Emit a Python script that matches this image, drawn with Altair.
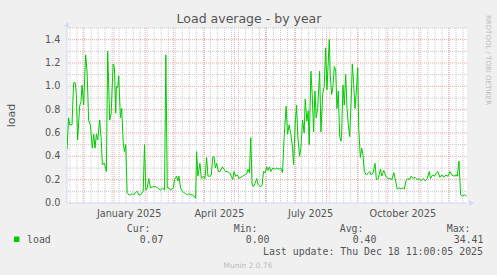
import altair as alt
import pandas as pd

# ---------------- data ----------------
start_date = "2024-11-15"
end_date = "2025-12-19"

# days after start_date, and the load read at that moment
day_offsets = [
    0.0, 1.6, 2.6, 5.0, 6.6, 8.3, 9.3, 10.6, 12.6, 14.0, 15.0, 16.6, 18.6, 20.0,
    21.6, 23.3, 25.3, 26.6, 28.0, 29.3, 30.6, 32.6, 34.0, 35.3, 37.3, 39.3, 40.6,
    42.6, 44.0, 46.0, 47.3, 48.6, 49.3, 50.6, 51.6, 53.3, 54.6, 56.0, 57.3, 58.6,
    60.0, 61.6, 63.3, 65.0, 66.6, 68.3, 70.0, 71.6, 73.3, 76.0, 77.3, 78.6, 80.0,
    81.6, 83.3, 86.0, 88.3, 90.6, 93.3, 95.3, 97.3, 98.6, 100.0, 101.6, 103.3,
    106.0, 107.3, 109.3, 110.6, 111.6, 113.3,
    115.0, 116.6, 118.3, 120.0, 121.6, 123.3, 125.0, 126.6, 128.3, 129.3, 130.6,
    132.6, 134.0, 136.0, 137.6, 139.3, 140.6, 142.6, 144.0, 145.3, 146.6, 148.0,
    149.3, 151.0, 152.6, 155.0, 156.6, 158.3, 160.0, 162.0, 164.0, 165.3, 166.6,
    168.3, 170.0, 171.6, 173.3, 175.3, 177.3, 179.3, 180.6, 182.0, 183.3, 184.6,
    186.0, 187.6, 189.3, 190.6, 192.6, 194.6, 196.0, 197.6, 199.3, 200.6, 202.0,
    203.3, 205.3, 207.3, 209.3, 211.3, 213.3, 215.0, 216.6, 218.6, 220.0, 221.6,
    223.3, 225.0, 226.0, 227.6, 229.0, 230.3, 232.0, 233.3, 235.0, 236.6, 237.6,
    239.3, 240.6, 241.6, 243.3, 244.6, 246.0, 247.3, 248.6, 250.0, 252.0, 253.3,
    255.0, 256.6, 258.0, 259.3, 261.6, 262.6, 264.0, 265.3, 266.6, 268.0, 269.3,
    270.6, 272.0, 273.3,
    274.0, 275.3, 276.6, 278.0, 279.3, 280.6, 282.0, 283.3, 284.6, 286.0, 287.3,
    288.6, 290.0, 291.0, 292.6, 294.0, 295.3, 296.6, 298.6, 300.6, 302.0, 303.3,
    305.3, 307.3, 308.6, 310.6, 312.6, 314.0, 316.0, 318.0, 320.0, 322.0, 324.0,
    326.0, 327.3, 329.3, 331.3, 333.3, 335.3, 336.6, 338.0, 340.0, 341.6, 343.3,
    345.3, 347.3, 349.3, 351.3, 353.3, 355.3, 357.3, 359.3, 361.3, 362.6, 364.6,
    366.6, 368.6, 370.0, 372.0, 374.0, 376.0, 378.0, 380.0, 382.0, 384.0, 386.0,
    388.0, 389.3, 391.0, 392.6, 394.6, 396.6, 398.6,
]
load_values = [
    0.46, 0.73, 0.67, 0.67, 1.03, 1.03, 0.93, 0.54, 0.83, 0.87, 1.01, 0.84, 1.27, 1.13,
    0.71, 0.67, 0.47, 0.59, 0.47, 0.59, 0.54, 0.71, 0.56, 0.33, 0.34, 0.27, 1.30,
    0.71, 0.76, 1.19, 1.16, 0.77, 1.00, 0.99, 1.09, 0.73, 0.81, 0.53, 0.44, 0.50,
    0.09, 0.07, 0.07, 0.08, 0.07, 0.09, 0.10, 0.07, 0.07, 0.10, 0.50, 0.11, 0.13,
    0.21, 0.13, 0.14, 0.14, 0.13, 0.11, 0.13, 0.11, 1.27, 0.13, 0.13, 0.11,
    0.13, 0.20, 0.23, 0.19, 0.23, 0.13,
    0.10, 0.09, 0.08, 0.07, 0.08, 0.07, 0.07, 0.06, 0.04, 0.44, 0.23,
    0.34, 0.21, 0.23, 0.21, 0.39, 0.23, 0.23, 0.24, 0.39, 0.40, 0.30,
    0.34, 0.27, 0.27, 0.31, 0.29, 0.27, 0.27, 0.26, 0.23, 0.20, 0.27,
    0.23, 0.24, 0.21, 0.22, 0.23, 0.24, 0.25, 0.29, 0.26, 0.56, 0.16,
    0.14, 0.17, 0.21, 0.16, 0.14, 0.15, 0.27, 0.26, 0.31, 0.28, 0.31,
    0.27, 0.30, 0.29, 0.30, 0.29, 0.30, 0.26, 0.56, 0.83, 0.59, 0.67,
    0.59, 0.47, 0.33, 0.67, 0.84, 0.56, 0.40, 0.47, 0.71, 0.60, 0.89,
    0.70, 0.79, 0.50, 1.13, 0.93, 0.61, 0.96, 0.73, 0.81, 1.13, 0.61,
    0.93, 1.00, 1.33, 0.97, 1.40, 1.10, 0.93, 1.00, 1.17, 1.14, 0.81,
    0.96, 0.57, 0.53,
    0.61, 1.01, 0.84, 1.10, 0.81, 0.67, 0.57, 0.84, 1.19, 1.01, 0.81,
    0.96, 1.16, 0.64, 0.39, 0.47, 0.41, 0.27, 0.24, 0.26, 0.27, 0.24,
    0.26, 0.34, 0.20, 0.21, 0.29, 0.23, 0.28, 0.23, 0.21, 0.21, 0.20,
    0.26, 0.21, 0.12, 0.13, 0.12, 0.13, 0.12, 0.19, 0.21, 0.20, 0.23,
    0.21, 0.22, 0.20, 0.21, 0.19, 0.21, 0.19, 0.21, 0.27, 0.21, 0.24,
    0.23, 0.26, 0.27, 0.22, 0.24, 0.22, 0.24, 0.23, 0.27, 0.24, 0.23,
    0.24, 0.23, 0.36, 0.07, 0.06, 0.07, 0.06,
]

month_starts = [
    "2024-12-01", "2025-01-01", "2025-02-01", "2025-03-01", "2025-04-01",
    "2025-05-01", "2025-06-01", "2025-07-01", "2025-08-01", "2025-09-01",
    "2025-10-01", "2025-11-01", "2025-12-01",
]
label_dates = ["2025-01-16", "2025-04-16", "2025-07-16", "2025-10-16"]
y_ticks = [0.0, 0.2, 0.4, 0.6, 0.8, 1.0, 1.2, 1.4]
y_major = [0.2, 0.4, 0.6, 0.8, 1.0, 1.2, 1.4]
y_minor = [0.1, 0.3, 0.5, 0.7, 0.9, 1.1, 1.3, 1.5]

title_text = "Load average - by year"
y_title = "load"
series_name = "load"
legend_headers = ["Cur:", "Min:", "Avg:", "Max:"]
legend_values = ["0.07", "0.00", "0.40", "34.41"]
last_update = "Last update: Thu Dec 18 11:00:05 2025"
footer = "Munin 2.0.76"
watermark = "RRDTOOL / TOBI OETIKER"

# ---------------- tables ----------------
t0 = pd.Timestamp(start_date)
load_df = pd.DataFrame({
    "date": t0 + pd.to_timedelta(day_offsets, unit="D"),
    "load": load_values,
})
month_df = pd.DataFrame({"date": pd.to_datetime(month_starts)})
week_df = pd.DataFrame({"date": pd.date_range(start_date, end_date, freq="W-MON")})
xlab_df = pd.DataFrame({"date": pd.to_datetime(label_dates)})
ylab_df = pd.DataFrame({"y": y_ticks})
ymaj_df = pd.DataFrame({"y": y_major})
ymin_df = pd.DataFrame({"y": y_minor})
one = pd.DataFrame({"d": [0]})


def dt(s):
    t = pd.Timestamp(s)
    return alt.DateTime(year=t.year, month=t.month, date=t.day)


x_scale = alt.Scale(domain=[dt(start_date), dt(end_date)])
y_scale = alt.Scale(domain=[0, 1.5], nice=False)

FONT = "DejaVu Sans"
MONO = "DejaVu Sans Mono"
TXT = "#555555"
AXIS_C = "#CFD6F8"
GREEN = "#00CC00"
MINOR_C = "#C8C8C8"
MAJOR_C = "#F0A4A4"

X = lambda f: alt.X(f, scale=x_scale, axis=None)
Y = lambda f: alt.Y(f, scale=y_scale, axis=None)

minor_v = alt.Chart(week_df).mark_rule(color=MINOR_C, strokeWidth=1, strokeDash=[1, 1]).encode(
    x=X("date:T"))
major_v = alt.Chart(month_df).mark_rule(color=MAJOR_C, strokeWidth=1, strokeDash=[1, 1]).encode(
    x=X("date:T"))
minor_h = alt.Chart(ymin_df).mark_rule(color=MINOR_C, strokeWidth=1, strokeDash=[1, 1]).encode(
    y=Y("y:Q"))
major_h = alt.Chart(ymaj_df).mark_rule(color=MAJOR_C, strokeWidth=1, strokeDash=[1, 1]).encode(
    y=Y("y:Q"))

line = alt.Chart(load_df).mark_line(color=GREEN, strokeWidth=1, clip=True).encode(
    x=X("date:T"), y=Y("load:Q"))

# axis lines with arrows
y_axis_line = alt.Chart(one).mark_rule(color=AXIS_C, strokeWidth=1).encode(
    x=alt.XDatum(dt(start_date), scale=x_scale, axis=None),
    y=alt.YDatum(0, scale=y_scale, axis=None),
    y2=alt.Y2Datum(1.5))
x_axis_line = alt.Chart(one).mark_rule(color=AXIS_C, strokeWidth=1).encode(
    x=alt.XDatum(dt(start_date), scale=x_scale, axis=None),
    x2=alt.X2Datum(dt(end_date)),
    y=alt.YDatum(0, scale=y_scale, axis=None))
arrow_up = alt.Chart(one).mark_point(
    shape="triangle-up", filled=True, color=AXIS_C, size=28, opacity=1, yOffset=-3.5).encode(
    x=alt.XDatum(dt(start_date), scale=x_scale, axis=None),
    y=alt.YDatum(1.5, scale=y_scale, axis=None))
arrow_right = alt.Chart(one).mark_point(
    shape="triangle-right", filled=True, color=AXIS_C, size=28, opacity=1, xOffset=4.5).encode(
    x=alt.XDatum(dt(end_date), scale=x_scale, axis=None),
    y=alt.YDatum(0, scale=y_scale, axis=None))

# tick labels drawn through the scales
y_labels = alt.Chart(ylab_df).mark_text(
    align="right", baseline="middle", font=FONT, fontSize=9.7, color=TXT).encode(
    y=Y("y:Q"), x=alt.value(-6.5), text=alt.Text("y:Q", format=".1f"))
x_labels = alt.Chart(xlab_df).mark_text(
    align="center", baseline="alphabetic", font=FONT, fontSize=9.7, color=TXT).encode(
    x=X("date:T"), y=alt.value(189), text=alt.Text("date:T", format="%B %Y"))


def text(s, x, y, align="left", font=FONT, size=9.7, color=TXT, angle=0, baseline="alphabetic"):
    return alt.Chart(pd.DataFrame({"t": [s]})).mark_text(
        align=align, baseline=baseline, font=font, fontSize=size, color=color, angle=angle
    ).encode(text="t:N", x=alt.value(x), y=alt.value(y))


texts = [
    text(title_text, 182, -5, align="center", size=12.5),
    text(y_title, -52, 87.5, align="center", size=11, angle=270),
    text(watermark, 420.5, -13, size=7, color="#BDBDBD", angle=90, baseline="middle"),
    text(series_name, -40, 215.3, font=MONO, size=9.9),
    text(last_update, 416, 227, align="right", font=MONO, size=9.9),
    text(footer, 181, 239.7, align="center", size=7.5, color="#BBBBBB"),
]
for h, xr in zip(legend_headers, [83.5, 190.5, 296.5, 403.5]):
    texts.append(text(h, xr, 203.7, align="right", font=MONO, size=9.9))
for v, xr in zip(legend_values, [96.5, 202.5, 309.5, 416.5]):
    texts.append(text(v, xr, 215.3, align="right", font=MONO, size=9.9))

swatch = alt.Chart(pd.DataFrame({"t": [series_name]})).mark_square(
    color=GREEN, size=30, opacity=1, filled=True).encode(
    x=alt.value(-50.3), y=alt.value(211.3))

chart = alt.layer(
    minor_v, major_v, minor_h, major_h, y_axis_line, x_axis_line, arrow_up, arrow_right,
    line, y_labels, x_labels, swatch, *texts
).properties(
    width=400, height=175,
    padding={"left": 67, "top": 28, "right": 30, "bottom": 72},
    autosize=alt.AutoSizeParams(type="none"),
    background="#F0F0F0",
).configure_view(stroke=None, fill="white")

chart.save("out.html", embed_options={"renderer": "svg", "actions": False})
